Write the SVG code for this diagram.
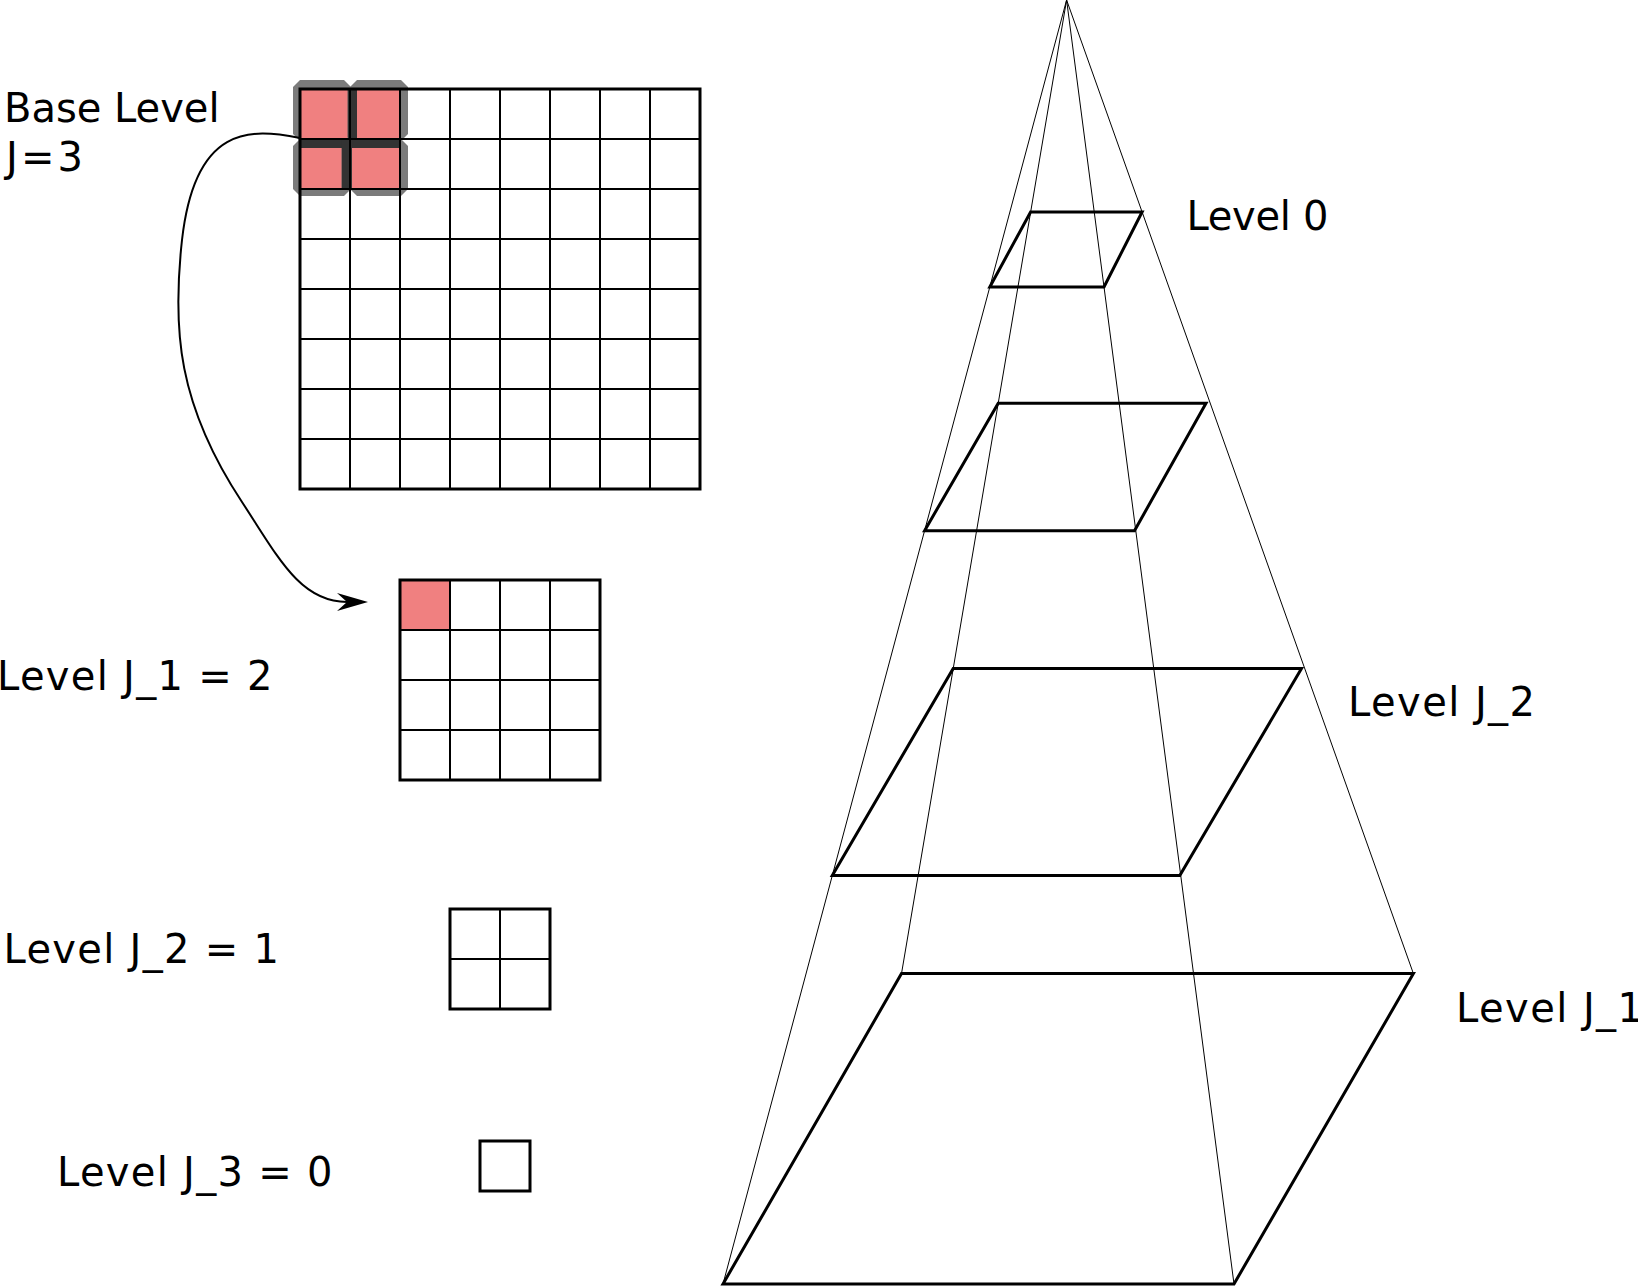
<svg xmlns="http://www.w3.org/2000/svg" width="1638" height="1287" viewBox="0 0 1638 1287">
<style>
.lbl{font-family:Verdana,"DejaVu Sans",sans-serif;font-size:40px;fill:#000}
.gridO{fill:none;stroke:#000;stroke-width:3}
.gridI{fill:none;stroke:#000;stroke-width:2}
.red{fill:#F08080}
.halo{fill:#7b7b7b}
.band{fill:#333}
.thin{fill:none;stroke:#000;stroke-width:1}
.lev{fill:none;stroke:#000;stroke-width:3;stroke-linejoin:miter}
.conn{fill:none;stroke:#000;stroke-width:2}
</style>
<defs>
<marker id="arr" markerUnits="userSpaceOnUse" viewBox="0 0 31 18" refX="10" refY="9" markerWidth="31" markerHeight="18" orient="auto">
<path d="M0,0 L31,9 L0,18 L10,9 z" fill="#000"/>
</marker>
</defs>
<rect width="1638" height="1287" fill="#fff"/>

<g id="base-level-grid">
<path class="halo" d="M300,80 L344,80 L351,87 L351,134 L344,141 L300,141 L293,134 L293,87 z"/>
<path class="halo" d="M357,80 L401,80 L408,87 L408,134 L401,141 L357,141 L350,134 L350,87 z"/>
<path class="halo" d="M300,139 L344,139 L351,146 L351,189 L344,196 L300,196 L293,189 L293,146 z"/>
<path class="halo" d="M357,139 L401,139 L408,146 L408,189 L401,196 L357,196 L350,189 L350,146 z"/>
<rect class="band" x="347.5" y="89" width="9.5" height="51"/>
<rect class="band" x="300" y="139" width="100" height="9"/>
<rect class="band" x="341.5" y="139" width="10.5" height="50"/>
<rect class="red" x="301" y="90" width="46.5" height="48.5"/>
<rect class="red" x="357" y="90" width="42.5" height="48.5"/>
<rect class="red" x="301" y="148" width="40.5" height="40.5"/>
<rect class="red" x="352" y="148" width="47.5" height="40.5"/>
<path class="gridI" d="M350,89V489M400,89V489M450,89V489M500,89V489M550,89V489M600,89V489M650,89V489M300,139H700M300,189H700M300,239H700M300,289H700M300,339H700M300,389H700M300,439H700"/>
<rect class="gridO" x="300" y="89" width="400" height="400"/>
</g>

<g id="level-j1-grid">
<rect class="red" x="400" y="580" width="50" height="50"/>
<path class="gridI" d="M450,580V780M500,580V780M550,580V780M400,630H600M400,680H600M400,730H600"/>
<rect class="gridO" x="400" y="580" width="200" height="200"/>
</g>

<g id="level-j2-grid">
<path class="gridI" d="M500,909V1009M450,959H550"/>
<rect class="gridO" x="450" y="909" width="100" height="100"/>
</g>

<g id="level-j3-grid">
<rect class="gridO" x="480" y="1141" width="50" height="50"/>
</g>

<g id="pyramid">
<path class="thin" d="M1066.6,0L723,1284M1066.6,0L1234,1284M1066.6,0L901.5,973.6M1066.6,0L1413.4,973.6"/>
<polygon id="pyr-level0" class="lev" points="1030.6,212 1142.1,212 1104,287 989.8,287"/>
<polygon id="pyr-level1" class="lev" points="998.2,403.2 1206,403.2 1134.5,530.7 924.6,530.7"/>
<polygon id="pyr-level2" class="lev" points="953.2,668.6 1301.5,668.6 1179.8,875.4 832.3,875.4"/>
<polygon id="pyr-level3" class="lev" points="901.5,973.6 1413.4,973.6 1234,1284 723,1284"/>
</g>

<g id="connectors">
<path class="conn" d="M300,138 C250,128 195,125 182,240 C172,330 178,405 242,502 C278,557 300,602 347,602" marker-end="url(#arr)"/>
</g>

<g id="labels">
<text class="lbl" x="4" y="122" textLength="215.5">Base Level</text>
<text class="lbl" x="6" y="171" textLength="77">J=3</text>
<text class="lbl" x="-3" y="690" textLength="275.5">Level J_1 = 2</text>
<text class="lbl" x="3.5" y="963" textLength="275.5">Level J_2 = 1</text>
<text class="lbl" x="57" y="1186" textLength="275.5">Level J_3 = 0</text>
<text class="lbl" x="1186.5" y="230" textLength="142">Level 0</text>
<text class="lbl" x="1348" y="716" textLength="187">Level J_2</text>
<text class="lbl" x="1456" y="1022" textLength="187">Level J_1</text>
</g>
</svg>
